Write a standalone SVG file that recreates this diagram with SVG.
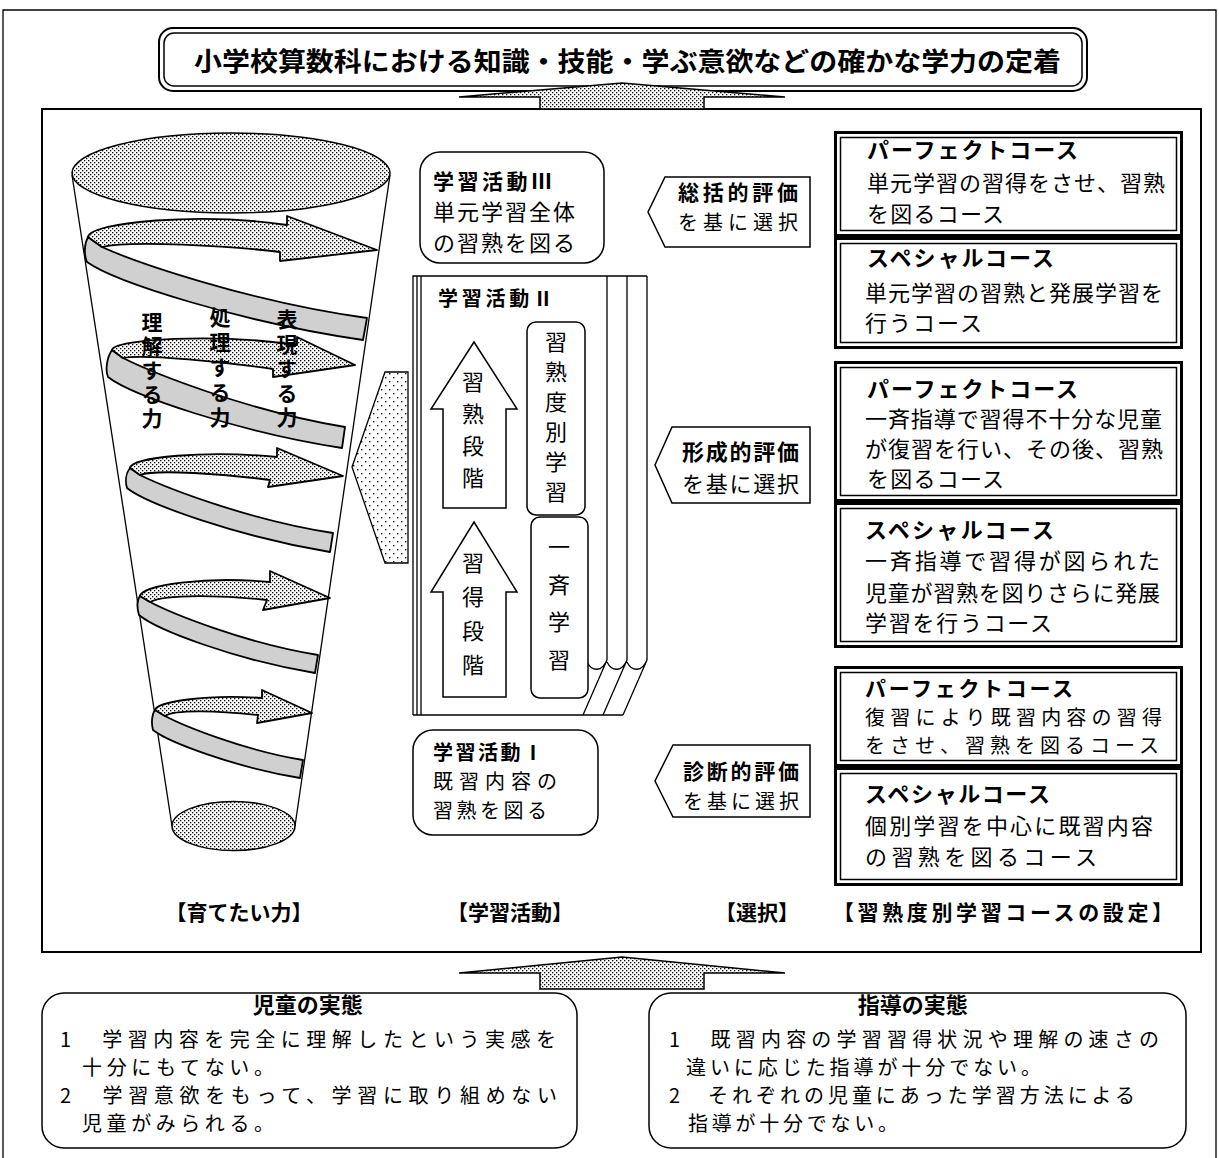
<svg xmlns="http://www.w3.org/2000/svg" width="1219" height="1158" viewBox="0 0 1219 1158">
<defs>
  <pattern id="dots" width="4" height="4" patternUnits="userSpaceOnUse">
    <rect width="4" height="4" fill="#fff"/>
    <rect x="0" y="0" width="1.3" height="1.3" fill="#000"/>
    <rect x="2" y="2" width="1.3" height="1.3" fill="#000"/>
  </pattern>
  <pattern id="sparse" width="8" height="8" patternUnits="userSpaceOnUse">
    <rect width="8" height="8" fill="#fff"/>
    <rect x="1" y="1" width="1.4" height="1.4" fill="#000"/>
    <rect x="5" y="5" width="1.4" height="1.4" fill="#000"/>
  </pattern>
  <style>
    text{font-family:"Noto Sans CJK JP","Noto Sans CJK SC",sans-serif;fill:#000}
    .b{font-weight:700}
    .ln{fill:none;stroke:#000;stroke-width:1.3}
    .frame{fill:none;stroke:#000;stroke-width:2}
    .dotfill{fill:url(#dots);stroke:#000;stroke-width:1.5}
    .band{fill:#d0d0d0;stroke:#000;stroke-width:1.8;stroke-linejoin:round}
    .spiral{fill:url(#dots);stroke:#000;stroke-width:1.8;stroke-linejoin:round}
    .wbox{fill:#fff;stroke:#000;stroke-width:1.5}
    .cOut{fill:#fff;stroke:#000;stroke-width:3}
    .cIn{fill:none;stroke:#000;stroke-width:1.5}
    .cb{font-size:22px}
    .tight{font-size:20px}
    .vt{font-size:22px;writing-mode:vertical-rl}
    .vl{font-size:21px;font-weight:700;writing-mode:vertical-rl}
    .sel{fill:#fff;stroke:#000;stroke-width:1.5}
    .cap{font-size:21px;font-weight:700;text-anchor:middle}
    .bt{font-size:20px}
  </style>
</defs>

<!-- page border -->
<path class="ln" d="M3,1158 V10 H1216 V1158"/>

<!-- main frame -->
<rect class="frame" x="42" y="109" width="1159" height="843" fill="#fff"/>

<!-- goal box -->
<g id="goal">
  <rect x="159" y="28" width="928" height="63" rx="14" fill="#fff" stroke="#000" stroke-width="2"/>
  <rect x="164" y="33" width="918" height="53" rx="10" fill="none" stroke="#000" stroke-width="1.5"/>
  <text class="b" x="194" y="71" font-size="26" textLength="867" lengthAdjust="spacingAndGlyphs">小学校算数科における知識・技能・学ぶ意欲などの確かな学力の定着</text>
</g>

<!-- connectors: big up arrows and the pointer into the activities -->
<g id="connectors">
  <path class="dotfill" d="M622,83 L785,97 L704,97 L704,109 L540,109 L540,97 L459,97 Z"/>
  <path class="dotfill" d="M622,957 L785,973 L704,973 L704,989 L540,989 L540,973 L459,973 Z"/>
  <path fill="url(#sparse)" stroke="#000" stroke-width="1.3" d="M408,372 L385,372 L352,467 L385,563 L408,563 Z"/>
</g>

<!-- funnel of abilities -->
<g id="funnel">
  <line class="ln" x1="72" y1="175" x2="172" y2="826"/>
  <line class="ln" x1="390" y1="175" x2="295" y2="826"/>

  <path class="band" d="M88,237 L102,247 C135,262 250,302 367,318 L363,340 C240,322 115,282 87,262 C84,255 84,244 88,237 Z"/>
  <path class="spiral" d="M88,237 C91,222 200,212 287,225 L287,216 L377,250 L280,261 L280,252 C230,246 130,240 102,247 Z"/>

  <path class="band" d="M112,350 L123,358 C151,372 247,411 345,427 L342,448 C238,432 131,395 108,377 C105,370 107,357 112,350 Z"/>
  <path class="spiral" d="M112,350 C114,339 215,333 297,345 L297,337 L355,365 L273,377 L273,369 C225,362 145,354 123,358 Z"/>

  <path class="band" d="M130,468 L140,475 C164,487 248,520 333,533 L330,552 C239,537 147,504 127,488 C125,481 126,473 130,468 Z"/>
  <path class="spiral" d="M130,468 C132,457 205,450 277,457 L277,448 L343,476 L268,487 L270,480 C225,474 155,469 140,475 Z"/>

  <path class="band" d="M140,596 L150,602 C171,613 244,643 318,655 L315,673 C236,660 157,630 139,615 C137,608 137,600 140,596 Z"/>
  <path class="spiral" d="M140,596 C142,585 205,576 270,582 L270,571 L330,598 L263,610 L267,600 C225,595 165,594 150,602 Z"/>

  <path class="band" d="M155,710 L165,716 C182,725 242,750 303,760 L300,778 C234,767 168,742 153,730 C151,723 152,714 155,710 Z"/>
  <path class="spiral" d="M155,710 C157,702 205,694 262,698 L262,690 L312,713 L257,723 L258,715 C220,711 175,709 165,716 Z"/>

  <ellipse class="dotfill" cx="231" cy="173" rx="159" ry="40"/>
  <ellipse class="dotfill" cx="233.5" cy="826" rx="61.5" ry="24.5"/>

  <text class="vl" x="152" y="312" letter-spacing="2.8">理解する力</text>
  <text class="vl" x="220" y="307" letter-spacing="4">処理する力</text>
  <text class="vl" x="287" y="309" letter-spacing="3.5">表現する力</text>
</g>

<!-- learning activity III -->
<g id="activity3">
  <rect class="wbox" x="420" y="152" width="184" height="111" rx="20"/>
  <text class="cb">
    <tspan class="b" x="433" y="189" font-size="21" textLength="119">学習活動Ⅲ</tspan>
    <tspan x="433" y="220" textLength="142">単元学習全体</tspan>
    <tspan x="433" y="251" textLength="142">の習熟を図る</tspan>
  </text>
</g>

<!-- learning activity II (book) -->
<g id="activity2">
  <rect x="413" y="276" width="194" height="439" fill="#fff"/>
  <path class="ln" d="M413,715 V276 H647 M417,276 V715 M421,276 V715 M413,715 H623"/>
  <path class="ln" d="M607,276 V660 M627,276 V660 M647,276 V660"/>
  <path class="ln" d="M587,662 C592,672 602,672 607,660 L583,715 M607,662 C612,672 622,672 627,660 L603,715 M627,662 C632,672 642,672 647,660 L623,715"/>
  <text class="b" x="438" y="306" font-size="20" textLength="115">学習活動Ⅱ</text>

  <path class="wbox" d="M474,342 L517,409 L506,409 L506,508 L443,508 L443,409 L431,409 Z"/>
  <path class="wbox" d="M474,522 L517,592 L506,592 L506,697 L443,697 L443,592 L431,592 Z"/>
  <rect class="wbox" x="527" y="322" width="58" height="193" rx="9"/>
  <rect class="wbox" x="531" y="517" width="57" height="181" rx="9"/>

  <text class="vt" x="473" y="371" letter-spacing="10">習熟段階</text>
  <text class="vt" x="473" y="552" letter-spacing="12">習得段階</text>
  <text class="vt" x="556" y="331" letter-spacing="8">習熟度別学習</text>
  <text class="vt" x="559" y="536" letter-spacing="15.5">一斉学習</text>
</g>

<!-- learning activity I -->
<g id="activity1">
  <rect class="wbox" x="413" y="730" width="185" height="105" rx="20"/>
  <text class="tight">
    <tspan class="b" x="433" y="760" textLength="110">学習活動Ⅰ</tspan>
    <tspan x="433" y="789" textLength="124">既習内容の</tspan>
    <tspan x="433" y="818" textLength="114">習熟を図る</tspan>
  </text>
</g>

<!-- selection by evaluation -->
<g id="select-summative">
  <path class="sel" d="M665,177 L810,177 L810,247 L665,247 L648,212 Z"/>
  <text class="tight">
    <tspan class="b" x="678" y="200" font-size="21" textLength="120">総括的評価</tspan>
    <tspan x="678" y="230" textLength="120">を基に選択</tspan>
  </text>
</g>
<g id="select-formative">
  <path class="sel" d="M672,427 L810,427 L810,503 L672,503 L655,465 Z"/>
  <text class="cb">
    <tspan class="b" x="682" y="460" textLength="117">形成的評価</tspan>
    <tspan x="682" y="492" textLength="117">を基に選択</tspan>
  </text>
</g>
<g id="select-diagnostic">
  <path class="sel" d="M673,745 L810,745 L810,817 L673,817 L655,781 Z"/>
  <text class="tight">
    <tspan class="b" x="683" y="779" font-size="21" textLength="116">診断的評価</tspan>
    <tspan x="683" y="809" textLength="116">を基に選択</tspan>
  </text>
</g>

<!-- course boxes -->
<g id="course-1">
  <rect class="cOut" x="835.5" y="132.5" width="346" height="103"/>
  <rect class="cIn" x="840.5" y="137.5" width="336" height="93"/>
  <text class="cb">
    <tspan class="b" x="867" y="158" textLength="211">パーフェクトコース</tspan>
    <tspan x="867" y="191" textLength="298">単元学習の習得をさせ、習熟</tspan>
    <tspan x="867" y="222" textLength="137">を図るコース</tspan>
  </text>
</g>
<g id="course-2">
  <rect class="cOut" x="835.5" y="238.5" width="346" height="109"/>
  <rect class="cIn" x="840.5" y="243.5" width="336" height="99"/>
  <text class="cb">
    <tspan class="b" x="867" y="266" textLength="187">スペシャルコース</tspan>
    <tspan x="865" y="301" textLength="298">単元学習の習熟と発展学習を</tspan>
    <tspan x="865" y="331" textLength="117">行うコース</tspan>
  </text>
</g>
<g id="course-3">
  <rect class="cOut" x="835.5" y="362.5" width="346" height="138"/>
  <rect class="cIn" x="840.5" y="367.5" width="336" height="128"/>
  <text class="cb">
    <tspan class="b" x="867" y="397" textLength="211">パーフェクトコース</tspan>
    <tspan x="865" y="427" textLength="297">一斉指導で習得不十分な児童</tspan>
    <tspan x="865" y="457" textLength="298">が復習を行い、その後、習熟</tspan>
    <tspan x="867" y="487" textLength="137">を図るコース</tspan>
  </text>
</g>
<g id="course-4">
  <rect class="cOut" x="835.5" y="503.5" width="346" height="143"/>
  <rect class="cIn" x="840.5" y="508.5" width="336" height="133"/>
  <text class="cb">
    <tspan class="b" x="865" y="538" textLength="189">スペシャルコース</tspan>
    <tspan x="865" y="569" textLength="295">一斉指導で習得が図られた</tspan>
    <tspan x="865" y="601" textLength="295">児童が習熟を図りさらに発展</tspan>
    <tspan x="865" y="631" textLength="187">学習を行うコース</tspan>
  </text>
</g>
<g id="course-5">
  <rect class="cOut" x="835.5" y="667.5" width="346" height="98"/>
  <rect class="cIn" x="840.5" y="672.5" width="336" height="88"/>
  <text class="tight">
    <tspan class="b" x="865" y="696" font-size="21" textLength="208">パーフェクトコース</tspan>
    <tspan x="865" y="725" textLength="297">復習により既習内容の習得</tspan>
    <tspan x="865" y="753" textLength="294">をさせ、習熟を図るコース</tspan>
  </text>
</g>
<g id="course-6">
  <rect class="cOut" x="835.5" y="768.5" width="346" height="116"/>
  <rect class="cIn" x="840.5" y="773.5" width="336" height="106"/>
  <text class="cb">
    <tspan class="b" x="865" y="802" textLength="185">スペシャルコース</tspan>
    <tspan x="865" y="834" textLength="288">個別学習を中心に既習内容</tspan>
    <tspan x="865" y="865" textLength="232">の習熟を図るコース</tspan>
  </text>
</g>

<!-- column captions -->
<g id="captions">
  <text class="cap" x="239" y="920">【育てたい力】</text>
  <text class="cap" x="510" y="920">【学習活動】</text>
  <text class="cap" x="757" y="920">【選択】</text>
  <text class="cap" x="1003" y="920" textLength="340">【習熟度別学習コースの設定】</text>
</g>

<!-- current state of pupils -->
<g id="pupils">
  <rect x="42" y="993" width="535" height="155" rx="22" fill="#fff" stroke="#000" stroke-width="1.5"/>
  <text class="bt">
    <tspan class="b" x="310" y="1013" font-size="22" text-anchor="middle">児童の実態</tspan>
    <tspan x="60" y="1047" textLength="496">1　学習内容を完全に理解したという実感を</tspan>
    <tspan x="82" y="1075" textLength="192">十分にもてない。</tspan>
    <tspan x="60" y="1103" textLength="497">2　学習意欲をもって、学習に取り組めない</tspan>
    <tspan x="82" y="1131" textLength="192">児童がみられる。</tspan>
  </text>
</g>

<!-- current state of teaching -->
<g id="teaching">
  <rect x="649" y="993" width="537" height="155" rx="22" fill="#fff" stroke="#000" stroke-width="1.5"/>
  <text class="bt">
    <tspan class="b" x="915" y="1013" font-size="22" text-anchor="middle">指導の実態</tspan>
    <tspan x="669" y="1047" textLength="490">1　既習内容の学習習得状況や理解の速さの</tspan>
    <tspan x="686" y="1075" textLength="355">違いに応じた指導が十分でない。</tspan>
    <tspan x="669" y="1103" textLength="466">2　それぞれの児童にあった学習方法による</tspan>
    <tspan x="688" y="1131" textLength="210">指導が十分でない。</tspan>
  </text>
</g>
</svg>
